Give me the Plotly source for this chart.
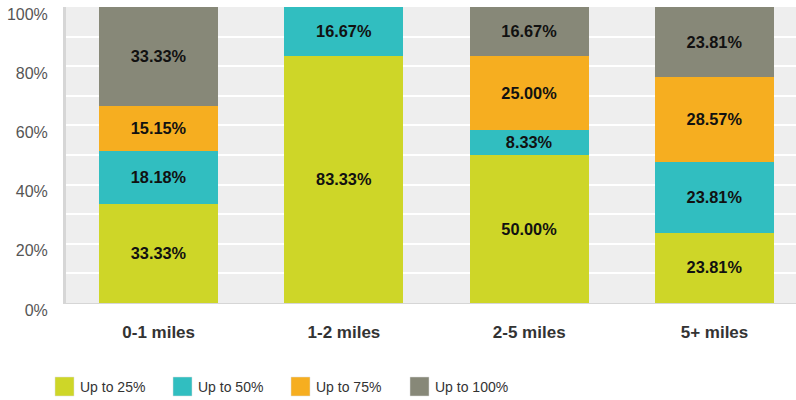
import plotly.graph_objects as go

categories = ["0-1 miles", "1-2 miles", "2-5 miles", "5+ miles"]
series_names = ["Up to 25%", "Up to 50%", "Up to 75%", "Up to 100%"]
up_to_25 = [33.33, 83.33, 50.00, 23.81]
up_to_50 = [18.18, 16.67, 8.33, 23.81]
up_to_75 = [15.15, 0.0, 25.00, 28.57]
up_to_100 = [33.33, 0.0, 16.67, 23.81]
colors = ["#CED628", "#31BEC0", "#F6AE20", "#878878"]
y_ticks = [0, 20, 40, 60, 80, 100]
y_tick_labels = ["0%", "20%", "40%", "60%", "80%", "100%"]

series_values = [up_to_25, up_to_50, up_to_75, up_to_100]

W, H = 796, 400
ML, MR, MT, MB = 66, 0, 7, 97

fig = go.Figure()
for name, vals, col in zip(series_names, series_values, colors):
    fig.add_trace(go.Bar(
        x=categories, y=vals, name=name,
        marker=dict(color=col, line=dict(width=0)),
        text=[f"{v:.2f}%" if v > 0 else "" for v in vals],
        textposition="inside", insidetextanchor="middle",
        textfont=dict(family="Liberation Sans, Arial", size=17.5, color="#111111", weight="bold"),
        showlegend=False,
        hoverinfo="skip",
    ))

# manual legend (square swatches + labels)
legend_x = [55, 173, 291, 410]
for name, col, lx in zip(series_names, colors, legend_x):
    fig.add_shape(type="rect", xref="paper", yref="paper",
                  x0=(lx - ML) / (W - ML - MR), x1=(lx + 19 - ML) / (W - ML - MR),
                  y0=-(377 - (H - MB)) / (H - MT - MB), y1=-(396 - (H - MB)) / (H - MT - MB),
                  fillcolor=col, line=dict(color="#dddddd", width=0.5))
    fig.add_annotation(xref="paper", yref="paper",
                       x=(lx + 23 - ML) / (W - ML - MR), y=-(387 - (H - MB)) / (H - MT - MB),
                       text=name, showarrow=False, xanchor="left", yanchor="middle",
                       font=dict(family="Liberation Sans, Arial", size=14, color="#333333"))

fig.update_layout(
    barmode="stack",
    bargap=0.358,
    width=W, height=H,
    margin=dict(l=ML, r=MR, t=MT, b=MB, pad=0, autoexpand=False),
    paper_bgcolor="white",
    plot_bgcolor="#EEEEEE",
    uniformtext=dict(mode="show", minsize=8),
    xaxis=dict(
        range=[-0.5, 3.44],
        automargin=False,
        showgrid=False,
        showline=True, linecolor="#D6D6D6", linewidth=1,
        ticks="outside", ticklen=14, tickcolor="rgba(0,0,0,0)",
        tickfont=dict(family="Liberation Sans, Arial", size=17, color="#333333", weight="bold"),
        fixedrange=True,
    ),
    yaxis=dict(
        range=[0, 100],
        automargin=False,
        tickvals=y_ticks, ticktext=y_tick_labels,
        showgrid=True, gridcolor="white", gridwidth=2,
        minor=dict(dtick=10, tick0=0, showgrid=True, gridcolor="white", gridwidth=2),
        showline=True, linecolor="#D6D6D6", linewidth=3,
        zeroline=False,
        ticks="outside", ticklen=12, tickcolor="rgba(0,0,0,0)",
        ticklabelshift=7,
        ticklabeloverflow="allow",
        tickfont=dict(family="Liberation Sans, Arial", size=16, color="#555555"),
        fixedrange=True,
    ),
)

fig.write_html("out.html", config={"displayModeBar": False},
               post_script="document.body.style.margin='0';")
